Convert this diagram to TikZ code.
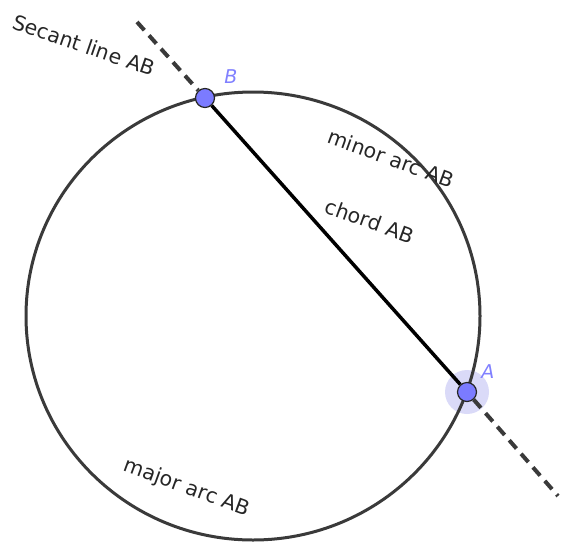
\documentclass[tikz,border=0pt]{standalone}
\usepackage{fontspec}
\newfontfamily\geofont{DejaVu Sans}
\usetikzlibrary{positioning}
\definecolor{gpoint}{HTML}{7B7BFF}
\definecolor{ghalo}{HTML}{DADAF8}
\definecolor{glabel}{HTML}{8080FF}
\definecolor{gline}{HTML}{3A3A3A}

\begin{document}
\begin{tikzpicture}[x=1pt, y=-1pt,
  font=\geofont\fontsize{20.5}{23}\selectfont,
  pt/.style={circle, draw=black!85, line width=1.2pt, fill=gpoint, minimum size=19pt, inner sep=0pt},
  ptlabel/.style={text=glabel, inner sep=0pt, font=\geofont\itshape\fontsize{19}{22}\selectfont},
  arclabel/.style={text=black!85, rotate=-20}]
\useasboundingbox (0,0) rectangle (561,546);
% ---------------- circle and its two points ----------------
\coordinate (O) at (253,316);
\fill[ghalo] (467,392) circle (22);
\draw[gline, line width=3pt] (O) ellipse [x radius=227, y radius=224];
\node[pt] (A) at (467,392) {};
\node[pt] (B) at (205,98) {};
\node[ptlabel, above right=6pt and 7pt of A] (Alabel) {A};
\node[ptlabel, above right=7pt and 12pt of B] (Blabel) {B};
% ---------------- chord and secant ----------------
\coordinate (S1) at (137,22);
\coordinate (S2) at (558,496);
\draw[black, line width=3.5pt] (A) -- (B);
\draw[gline, line width=4pt, dash pattern=on 11pt off 7pt] (S1) -- (B);
\draw[gline, line width=4pt, dash pattern=on 11pt off 7pt] (A) -- (S2);
% ---------------- labels ----------------
\node[arclabel, rotate=1] (secant) at (84,45) {Secant line AB};
\node[arclabel] (minor) at (391,158) {minor arc AB};
\node[arclabel] (chord) at (370,221) {chord AB};
\node[arclabel] (major) at (187,488) {major arc AB};
\end{tikzpicture}
\end{document}
